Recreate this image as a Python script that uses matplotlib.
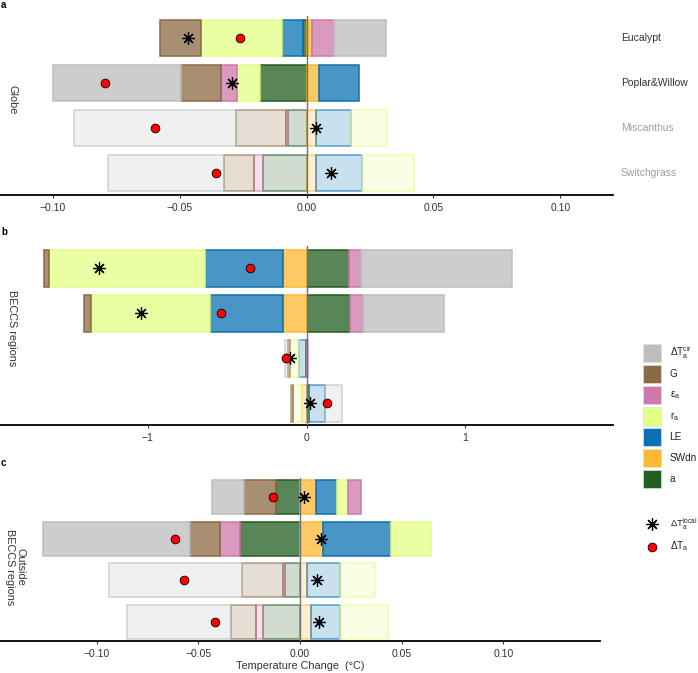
import numpy as np
import matplotlib
matplotlib.use('Agg')
import matplotlib.pyplot as plt
from matplotlib.colors import to_rgba
from matplotlib.patches import Rectangle

plt.rcParams['font.family'] = ['Liberation Sans', 'DejaVu Sans']
plt.rcParams['mathtext.fontset'] = 'custom'
plt.rcParams['mathtext.rm'] = 'Liberation Sans'
plt.rcParams['mathtext.it'] = 'Liberation Sans'
plt.rcParams['mathtext.default'] = 'regular'

# rows (top to bottom)
crops = ['Eucalypt', 'Poplar&Willow', 'Miscanthus', 'Switchgrass']
faded = [False, False, True, True]

# components in legend order
comp_names = ['cir', 'G', 'eps', 'ra', 'LE', 'SWdn', 'a']
comp_labels = [r'$\Delta T_a^{cir}$', 'G', r'$\varepsilon_a$', r'$r_a$', 'LE', 'SWdn', 'a']
comp_colors = ['#BDBDBD', '#8C6A43', '#CE79AB', '#E3FF85', '#0A72B4', '#FFB832', '#225E20']
# stacking order outward from zero
stack_order = ['a', 'SWdn', 'LE', 'ra', 'eps', 'G', 'cir']

# panel a: Globe
a_cir = [0.0205, -0.0505, -0.0637, -0.0456]
a_G = [-0.0162, -0.0158, -0.0199, -0.0118]
a_eps = [0.0090, -0.0063, -0.0008, -0.0035]
a_ra = [-0.0317, -0.0089, 0.0143, 0.0206]
a_LE = [-0.0085, 0.0156, 0.0137, 0.0181]
a_SWdn = [0.0020, 0.0050, 0.0038, 0.0038]
a_a = [-0.0013, -0.0185, -0.0071, -0.0171]
a_local = [-0.0465, -0.0293, 0.0037, 0.0098]
a_dT = [-0.0262, -0.0794, -0.0597, -0.0357]

# panel b: BECCS regions
b_cir = [0.950, 0.507, -0.021, 0.111]
b_G = [-0.027, -0.044, -0.015, -0.008]
b_eps = [0.078, 0.083, 0.010, -0.002]
b_ra = [-0.986, -0.746, -0.055, -0.058]
b_LE = [-0.490, -0.459, -0.041, 0.098]
b_SWdn = [-0.147, -0.151, -0.002, -0.028]
b_a = [0.268, 0.273, -0.003, 0.017]
b_local = [-1.304, -1.040, -0.106, 0.021]
b_dT = [-0.354, -0.537, -0.127, 0.128]

# panel c: outside BECCS regions
c_cir = [-0.0157, -0.0721, -0.0652, -0.0514]
c_G = [-0.0159, -0.0148, -0.0202, -0.0120]
c_eps = [0.0066, -0.0096, -0.0011, -0.0034]
c_ra = [0.0056, 0.0200, 0.0172, 0.0236]
c_LE = [0.0101, 0.0335, 0.0162, 0.0146]
c_SWdn = [0.0079, 0.0111, 0.0036, 0.0052]
c_a = [-0.0118, -0.0297, -0.0074, -0.0184]
c_local = [0.0018, 0.0102, 0.0082, 0.0095]
c_dT = [-0.0134, -0.0616, -0.0570, -0.0418]

W, H = 698, 673
fig = plt.figure(figsize=(W / 100, H / 100), dpi=100)


def px_axes(x0, x1, y0, y1):
    return fig.add_axes([x0 / W, 1 - y1 / H, (x1 - x0) / W, (y1 - y0) / H])


def draw_panel(ax, comps, local, dT, lim, ylim, ticks, ticklabels):
    colors = dict(zip(comp_names, comp_colors))
    y = np.arange(len(crops))
    pos = np.zeros(len(crops))
    neg = np.zeros(len(crops))
    for name in stack_order:
        v = np.array(comps[name])
        left = np.where(v >= 0, pos, neg)
        pos = pos + np.where(v >= 0, v, 0)
        neg = neg + np.where(v < 0, v, 0)
        fc = [to_rgba(colors[name], 0.22 if f else 0.75) for f in faded]
        ec = [to_rgba(colors[name], 0.65 if f else 1.0) for f in faded]
        ax.barh(y, v, left=left, height=0.82, color=fc, edgecolor=ec, linewidth=1.1, zorder=2)
    ax.axvline(0, color='#707070', lw=1.0, zorder=3)
    ax.plot(local, y, ls='none', marker=(8, 2, 0), ms=9, mew=0.9, color='black', zorder=4)
    ax.plot(dT, y, ls='none', marker='o', ms=6.3, mfc='red', mec='black', mew=0.6, zorder=5)
    ax.set_xlim(-lim, lim)
    ax.set_ylim(*ylim)
    ax.set_yticks([])
    for s in ['top', 'right', 'left']:
        ax.spines[s].set_visible(False)
    ax.spines['bottom'].set_linewidth(1.3)
    ax.spines['bottom'].set_color('black')
    ax.set_xticks(ticks)
    ax.set_xticklabels(ticklabels)
    ax.tick_params(axis='x', length=2.5, width=0.8, color='#333333', labelsize=7.5,
                   labelcolor='#333333', pad=3)
    ax.patch.set_alpha(0)


ticks_small = [-0.10, -0.05, 0.0, 0.05, 0.10]
labels_small = ['\u22120.10', '\u22120.05', '0.00', '0.05', '0.10']

ax_a = px_axes(0, 613, 16, 195)
draw_panel(ax_a, dict(cir=a_cir, G=a_G, eps=a_eps, ra=a_ra, LE=a_LE, SWdn=a_SWdn, a=a_a),
           a_local, a_dT, 0.1207, (3.49, -0.49), ticks_small, labels_small)

ax_b = px_axes(0, 613, 246, 425)
draw_panel(ax_b, dict(cir=b_cir, G=b_G, eps=b_eps, ra=b_ra, LE=b_LE, SWdn=b_SWdn, a=b_a),
           b_local, b_dT, 1.929, (3.48, -0.5), [-1, 0, 1], ['\u22121', '0', '1'])

ax_c = px_axes(0, 600, 478, 641)
draw_panel(ax_c, dict(cir=c_cir, G=c_G, eps=c_eps, ra=c_ra, LE=c_LE, SWdn=c_SWdn, a=c_a),
           c_local, c_dT, 0.1476, (3.465, -0.465), ticks_small, labels_small)
ax_c.set_xlabel('Temperature Change  (\u00b0C)', fontsize=7.8, color='#333333', labelpad=2)

# overlay in pixel coordinates for labels and legend
ov = fig.add_axes([0, 0, 1, 1])
ov.set_xlim(0, W)
ov.set_ylim(H, 0)
ov.axis('off')
ov.patch.set_alpha(0)

for lab, yy in zip(['a', 'b', 'c'], [5, 232, 463]):
    ov.text(1, yy, lab, fontsize=7, fontweight='bold', va='center', ha='left')

ov.text(12, 100, 'Globe', rotation=-90, fontsize=7.8, va='center', ha='center', color='#333333')
ov.text(12, 328, 'BECCS regions', rotation=-90, fontsize=7.8, va='center', ha='center', color='#333333')
ov.text(15, 567, 'Outside\nBECCS regions', rotation=-90, fontsize=7.8, va='center', ha='center',
        color='#333333', linespacing=1.0)

for i, (name, f) in enumerate(zip(crops, faded)):
    ov.text(621, 38 + 45 * i, name, fontsize=7.5, va='center', ha='left',
            color='#a0a0a0' if f else '#333333')

leg_y = [353, 374, 395, 416.5, 437, 458, 479]
for yy, lab, col in zip(leg_y, comp_labels, comp_colors):
    ov.add_patch(Rectangle((642.5, yy - 9.3), 18.5, 18.6, facecolor=col, edgecolor='#e0e0e0', lw=0.5))
    ov.text(669.5, yy, lab, fontsize=7.2, va='center', ha='left', color='#222222')

ov.plot([651.5], [524], ls='none', marker=(8, 2, 0), ms=9, mew=0.9, color='black')
ov.text(669.5, 524, r'$\Delta T_a^{local}$', fontsize=6.8, va='center', ha='left', color='#222222')
ov.plot([651.5], [546.5], ls='none', marker='o', ms=6.3, mfc='red', mec='black', mew=0.6)
ov.text(669.5, 546.5, r'$\Delta T_a$', fontsize=7.2, va='center', ha='left', color='#222222')

fig.savefig('out.png', dpi=100)
